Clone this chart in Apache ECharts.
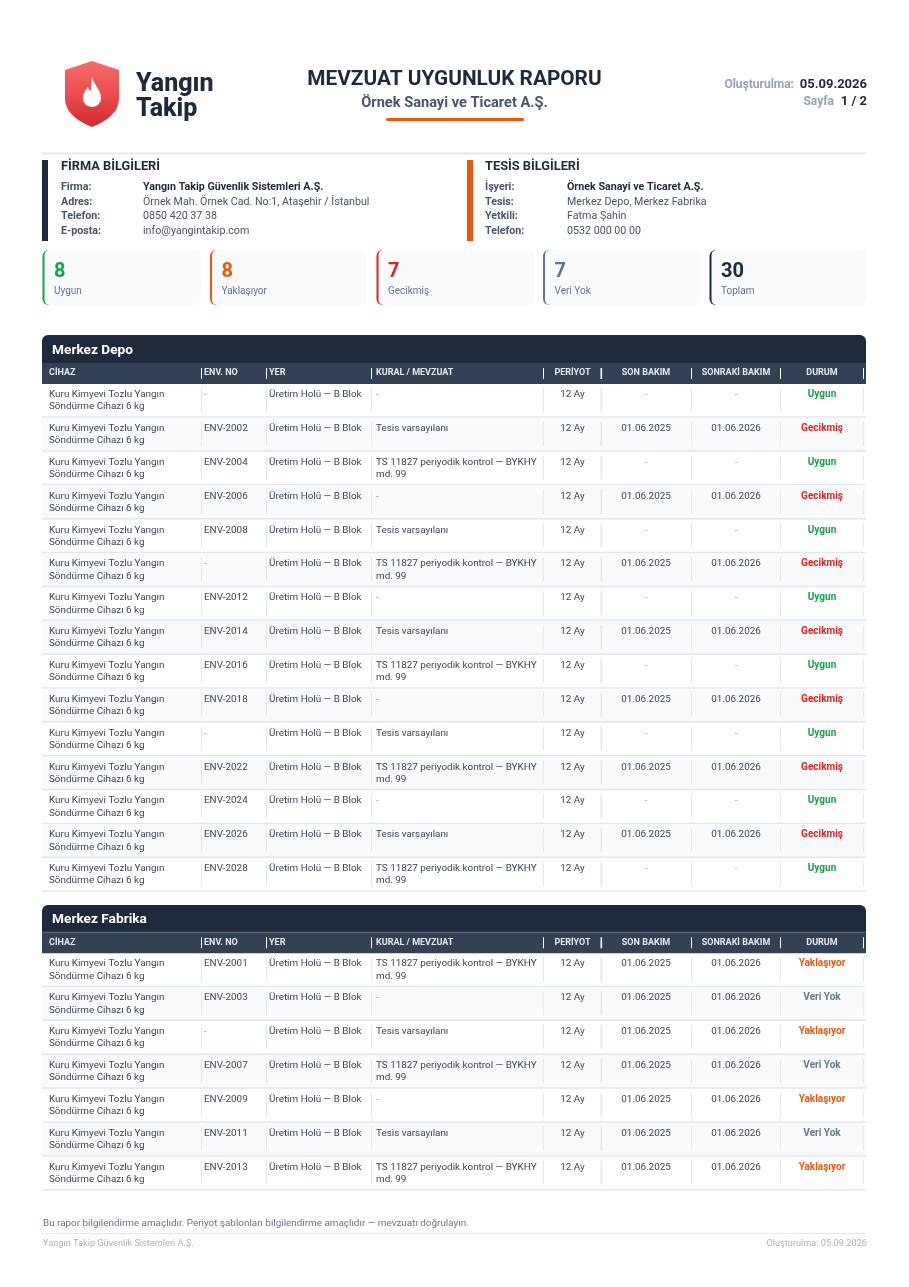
<!DOCTYPE html>
<html><head><meta charset="utf-8">
<style>html,body{margin:0;padding:0;background:#fff}#c{width:909px;height:1287px}</style>
<script src="https://cdn.jsdelivr.net/npm/echarts@6/dist/echarts.min.js"></script>
</head><body><div id="c"></div>
<script>
const columnHeaders = ['CİHAZ','ENV. NO','YER','KURAL / MEVZUAT','PERİYOT','SON BAKIM','SONRAKİ BAKIM','DURUM'];
const device = 'Kuru Kimyevi Tozlu Yangın\nSöndürme Cihazı 6 kg';
const place = 'Üretim Holü — B Blok';
const ts = 'TS 11827 periyodik kontrol — BYKHY\nmd. 99';
const tv = 'Tesis varsayılanı';

const depoEnv = ['-','ENV-2002','ENV-2004','ENV-2006','ENV-2008','-','ENV-2012','ENV-2014','ENV-2016','ENV-2018','-','ENV-2022','ENV-2024','ENV-2026','ENV-2028'];
const depoRule = ['-',tv,ts,'-',tv,ts,'-',tv,ts,'-',tv,ts,'-',tv,ts];
const depoLast = ['-','01.06.2025','-','01.06.2025','-','01.06.2025','-','01.06.2025','-','01.06.2025','-','01.06.2025','-','01.06.2025','-'];
const depoNext = ['-','01.06.2026','-','01.06.2026','-','01.06.2026','-','01.06.2026','-','01.06.2026','-','01.06.2026','-','01.06.2026','-'];
const depoStatus = ['Uygun','Gecikmiş','Uygun','Gecikmiş','Uygun','Gecikmiş','Uygun','Gecikmiş','Uygun','Gecikmiş','Uygun','Gecikmiş','Uygun','Gecikmiş','Uygun'];

const fabEnv = ['ENV-2001','ENV-2003','-','ENV-2007','ENV-2009','ENV-2011','ENV-2013'];
const fabRule = [ts,'-',tv,ts,'-',tv,ts];
const fabLast = ['01.06.2025','01.06.2025','01.06.2025','01.06.2025','01.06.2025','01.06.2025','01.06.2025'];
const fabNext = ['01.06.2026','01.06.2026','01.06.2026','01.06.2026','01.06.2026','01.06.2026','01.06.2026'];
const fabStatus = ['Yaklaşıyor','Veri Yok','Yaklaşıyor','Veri Yok','Yaklaşıyor','Veri Yok','Yaklaşıyor'];

const cardValues = ['8','8','7','7','30'];
const cardLabels = ['Uygun','Yaklaşıyor','Gecikmiş','Veri Yok','Toplam'];
const firmLabels = ['Firma:','Adres:','Telefon:','E-posta:'];
const firmValues = ['Yangın Takip Güvenlik Sistemleri A.Ş.','Örnek Mah. Örnek Cad. No:1, Ataşehir / İstanbul','0850 420 37 38','info@yangintakip.com'];
const siteLabels = ['İşyeri:','Tesis:','Yetkili:','Telefon:'];
const siteValues = ['Örnek Sanayi ve Ticaret A.Ş.','Merkez Depo, Merkez Fabrika','Fatma Şahin','0532 000 00 00'];

const F = 'Roboto';
const NAVY='#1e293b', SLATE='#3a4659', ORANGE='#ea580c', LINE='#e2e8f0';
const statusColor = {'Uygun':'#16a34a','Gecikmiş':'#dc2626','Yaklaşıyor':'#ea580c','Veri Yok':'#6b7688'};
const cardColors = ['#16a34a','#ea580c','#dc2626','#64748b','#1e293b'];
const cardX = [[42.5,201],[210,367],[376.5,534.5],[543,700.5],[709.5,866]];
const sepX = [201.5,266.5,371.5,543.5,601,691.5,780.5,863.5];
const headX = [49,204,269,376,572.5,646,736,822];
const g = [];
function T(text,x,y,font,fill,align){g.push({type:'text',silent:true,style:{text,x,y:y+1,font:font+' '+F,fill,align:align||'left',verticalAlign:'middle',textAlign:align||'left',textVerticalAlign:'middle'}});}
function R(x,y,w,h,fill,r){g.push({type:'rect',silent:true,shape:{x,y,width:w,height:h,r:r||0},style:{fill}});}

T('Yangın',136,83.5,'800 25px',NAVY);
T('Takip',136,108.5,'800 25px',NAVY);
// title
T('MEVZUAT UYGUNLUK RAPORU',454.5,78.5,'bold 20.8px',NAVY,'center');
T('Örnek Sanayi ve Ticaret A.Ş.',454.5,102,'bold 14.6px','#475569','center');
R(386,118,138,3,ORANGE,1.5);
T('Oluşturulma:',794,83.5,'bold 12px','#94a3b8','right');
T('05.09.2026',867,84,'bold 13px',NAVY,'right');
T('Sayfa',834,100.5,'bold 12px','#94a3b8','right');
T('1 / 2',867,100.5,'bold 13px',NAVY,'right');
// divider and info
R(42,152.5,824,2,LINE);
R(42,160,6,81,NAVY);
R(467,160,6,81,ORANGE);
T('FİRMA BİLGİLERİ',61,166,'bold 12.8px',NAVY);
T('TESİS BİLGİLERİ',485,166,'bold 12.8px',NAVY);
const infoY=[186.5,201,215.5,230];
infoY.forEach((y,i)=>{
  const f = i===0?'bold 10.7px':'10.7px', c = i===0?NAVY:'#475569';
  T(firmLabels[i],61,y,'bold 10.7px','#475569');
  T(firmValues[i],143,y,f,c);
  T(siteLabels[i],485,y,'bold 10.7px','#475569');
  T(siteValues[i],567,y,f,c);
});
// cards
cardValues.forEach((v,i)=>{
  const [a,b]=cardX[i];
  R(a,250,14,55,cardColors[i],[6,0,0,6]);
  R(a+2,250,b-a-2,55,'#f8fafc',[5,6,6,5]);
  T(v,a+11.5,271,'bold 20px',cardColors[i]);
  T(cardLabels[i],a+11.5,290,'10px','#64748b');
});
// table chrome
function chrome(title,top,barH,titleY){
  R(42,top,824,barH,NAVY,[6,6,0,0]);
  R(42,top+barH,824,21,'#334155');
  T(title,52,titleY,'bold 13.7px','#ffffff');
  columnHeaders.forEach((h,i)=>{
    T(h,headX[i],top+barH+9,'bold 9px','#e2e8f0',i<4?'left':'center');
    R(sepX[i]-.5,top+barH+5,i===4?1.6:1,11,'#ffffff');
  });
}
chrome('Merkez Depo',335,28,350);
chrome('Merkez Fabrika',905,27.3,918.5);
R(42,931.8,824,.7,'#5b6b80');
// footer
T('Bu rapor bilgilendirme amaçlıdır. Periyot şablonları bilgilendirme amaçlıdır — mevzuatı doğrulayın.',43,1222.5,'9.9px','#64748b');
R(42,1233,824,1,LINE);
T('Yangın Takip Güvenlik Sistemleri A.Ş.',43,1243,'9.2px','#aab2bf');
T('Oluşturulma: 05.09.2026',867,1243,'9.2px','#aab2bf','right');

function tableSeries(idx,env,rule,last,next,status){
  return {type:'custom',xAxisIndex:idx,yAxisIndex:idx,silent:true,clip:false,animation:false,
    data:env.map((_,i)=>[i]),
    renderItem(params,api){
      const i=api.value(0);
      const p0=api.coord([0,i]), p1=api.coord([824,i+1]);
      const x0=p0[0], y0=p0[1], y1=p1[1];
      const ch=[];
      if(i%2===1) ch.push({type:'rect',shape:{x:x0,y:y0,width:824,height:y1-y0},style:{fill:'#f8fafc'}});
      ch.push({type:'rect',shape:{x:x0,y:y1-1.5,width:824,height:1.5},style:{fill:LINE}});
      sepX.forEach((s,k)=>ch.push({type:'rect',shape:{x:s-.5,y:y0+4,width:k===4?1.6:1,height:24},style:{fill:LINE}}));
      const txt=(text,x,align,font,fill)=>ch.push({type:'text',style:{text,x,y:y0+4.5,font:(font||'9.9px')+' '+F,fill:fill||SLATE,align:align,textAlign:align,verticalAlign:'top',textVerticalAlign:'top',lineHeight:12.3}});
      const tc=v=>v==='-'?'#94a3b8':SLATE;
      txt(device,headX[0],'left');
      txt(env[i],headX[1],'left',null,tc(env[i]));
      txt(place,headX[2],'left');
      txt(rule[i],headX[3],'left',null,tc(rule[i]));
      txt('12 Ay',headX[4],'center');
      txt(last[i],headX[5],'center',null,tc(last[i]));
      txt(next[i],headX[6],'center',null,tc(next[i]));
      txt(status[i],headX[7],'center','bold 10px',statusColor[status[i]]);
      return {type:'group',children:ch};
    }};
}
const logoSeries = {type:'custom',coordinateSystem:'none',silent:true,animation:false,data:[[0]],
  renderItem(){
    return {type:'group',children:[
      {type:'path',shape:{pathData:'M92 61 L119 70 L119 98 C119 113 106 121 92 127 C78 121 65 113 65 98 L65 70 Z',layout:'cover',x:65,y:61,width:54,height:66},
       style:{fill:{type:'linear',x:0,y:0,x2:0,y2:1,colorStops:[{offset:0,color:'#f76c6c'},{offset:.5,color:'#ec4d4d'},{offset:1,color:'#d22a2a'}]}}},
      {type:'path',shape:{pathData:'M92 77 C93 84 101 89 101 98 C101 103 97 107 92 107 C87 107 83 103 83 98 C83 93 86 90 88 87 C89 90 90 91 90.5 91 C91.5 87 91 81 92 77 Z',layout:'cover',x:83,y:77,width:18,height:30},style:{fill:'#fff'}}
    ]};
  }};
const chart=echarts.init(document.getElementById('c'),null,{renderer:'canvas',width:909,height:1287});
chart.setOption({
  animation:false,
  backgroundColor:'#ffffff',
  grid:[{left:42,top:384,width:824,height:507.9},{left:42,top:953.3,width:824,height:237.2}],
  xAxis:[{type:'value',gridIndex:0,min:0,max:824,show:false},{type:'value',gridIndex:1,min:0,max:824,show:false}],
  yAxis:[{type:'value',gridIndex:0,min:0,max:15,inverse:true,show:false},{type:'value',gridIndex:1,min:0,max:7,inverse:true,show:false}],
  graphic:{elements:g},
  series:[tableSeries(0,depoEnv,depoRule,depoLast,depoNext,depoStatus),tableSeries(1,fabEnv,fabRule,fabLast,fabNext,fabStatus),logoSeries]
});
</script></body></html>
